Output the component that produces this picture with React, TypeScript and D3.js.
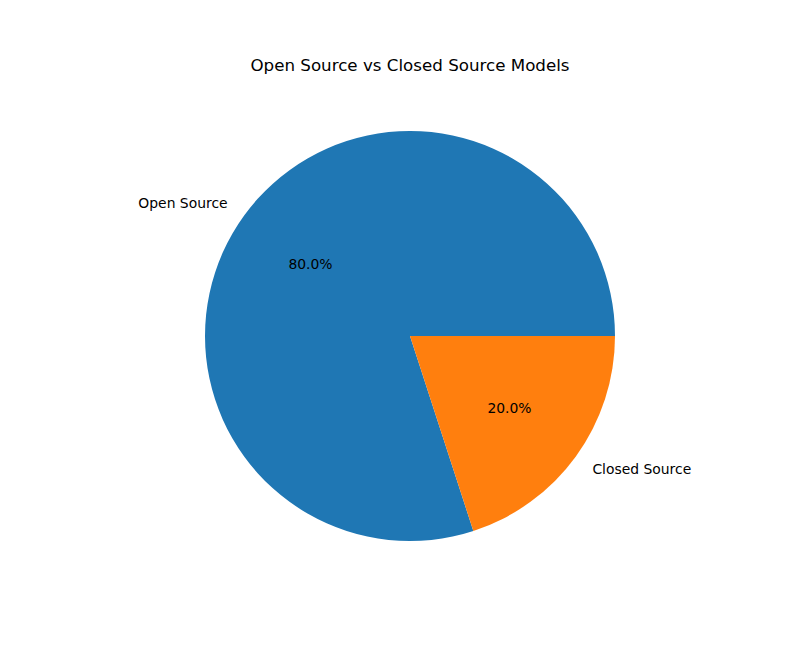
import React from "react";
import * as d3 from "d3";

const categories = ["Open Source", "Closed Source"];
const values = [80, 20];
const colors = ["#1f77b4", "#ff7f0e"];
const title = "Open Source vs Closed Source Models";

export default function App() {
  const width = 800;
  const height = 666;
  const cx = 410;
  const cy = 336;
  const r = 205;

  const pie = d3
    .pie<number>()
    .sort(null)
    .startAngle(Math.PI / 2)
    .endAngle(Math.PI / 2 - 2 * Math.PI);
  const arcs = pie(values);
  const arc = d3.arc<d3.PieArcDatum<number>>().innerRadius(0).outerRadius(r);
  const total = d3.sum(values);

  const font = "DejaVu Sans, sans-serif";

  return (
    <svg
      width={width}
      height={height}
      style={{ position: "absolute", left: 0, top: 0, background: "#fff" }}
    >
      <text
        x={410}
        y={66.5}
        textAnchor="middle"
        dominantBaseline="middle"
        fontFamily={font}
        fontSize={16.7}
      >
        {title}
      </text>
      <g transform={`translate(${cx},${cy})`}>
        {arcs.map((a, i) => (
          <path key={i} d={arc(a) || ""} fill={colors[i]} />
        ))}
        {arcs.map((a, i) => {
          const mid = (a.startAngle + a.endAngle) / 2;
          const sx = Math.sin(mid);
          const sy = -Math.cos(mid);
          const lx = 1.1 * r * sx;
          const ly = 1.1 * r * sy;
          const px = 0.6 * r * sx;
          const py = 0.6 * r * sy;
          return (
            <g key={"l" + i}>
              <text
                x={lx}
                y={ly + 1}
                textAnchor={sx < 0 ? "end" : "start"}
                dominantBaseline="middle"
                fontFamily={font}
                fontSize={13.9}
              >
                {categories[i]}
              </text>
              <text
                x={px}
                y={py + 1}
                textAnchor="middle"
                dominantBaseline="middle"
                fontFamily={font}
                fontSize={13.9}
              >
                {((values[i] / total) * 100).toFixed(1) + "%"}
              </text>
            </g>
          );
        })}
      </g>
    </svg>
  );
}
